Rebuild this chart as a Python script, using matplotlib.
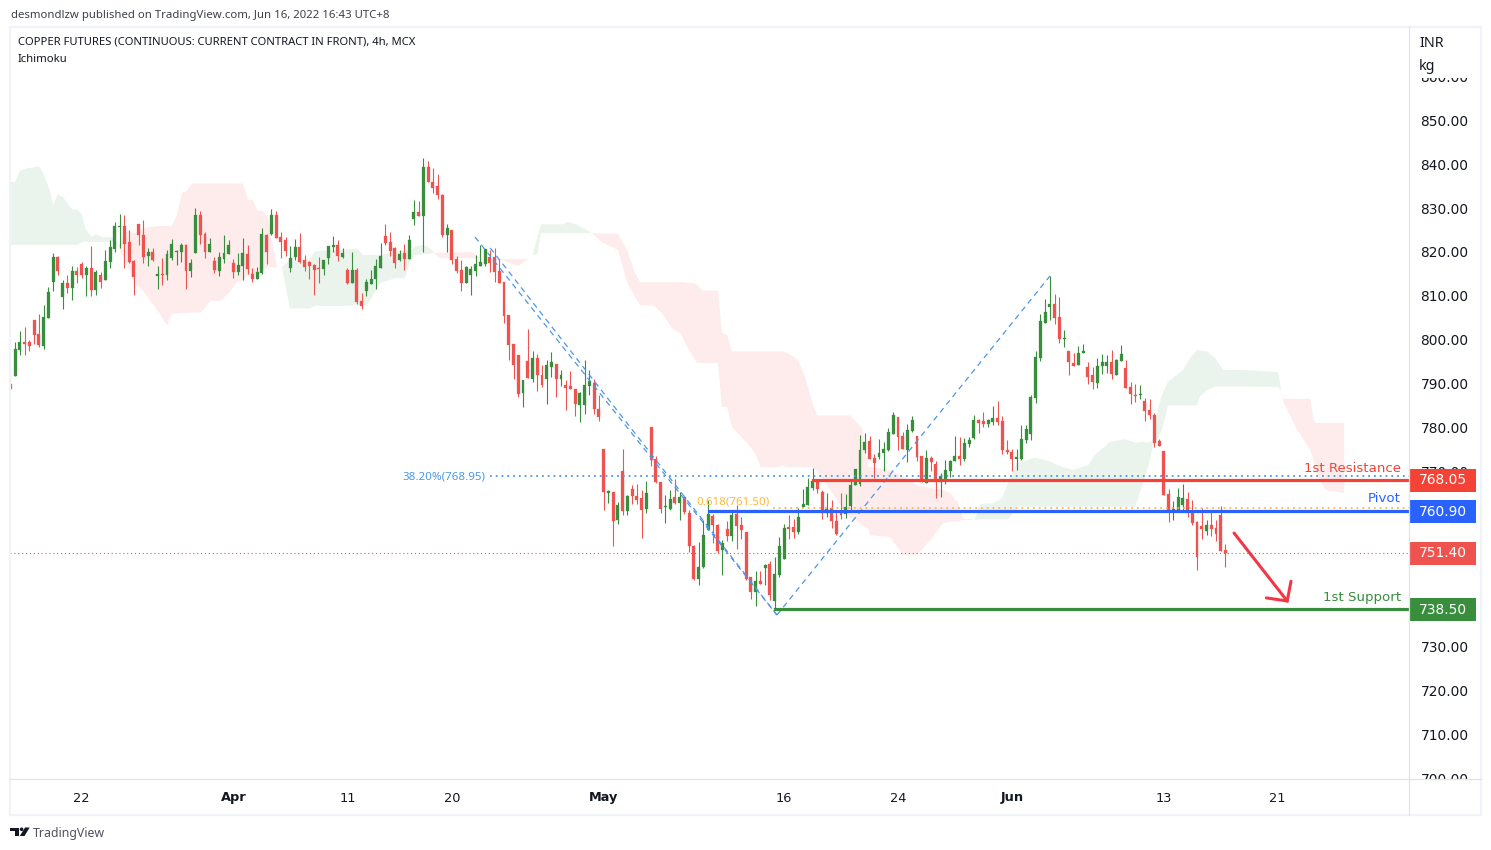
# copper futures 4h chart, tradingview style
import numpy as np
import matplotlib
matplotlib.use('Agg')
import matplotlib.pyplot as plt
import matplotlib.patches as mpatches
from matplotlib.transforms import blended_transform_factory

plt.rcParams['font.family'] = ['Noto Sans', 'DejaVu Sans']

# candles
highs = [792.9,799.5,801.9,802.9,799.9,804.5,805.9,807.9,812.0,819.7,
         819.1,813.6,814.8,816.8,816.6,817.7,816.8,821.4,815.9,815.4,
         820.5,822.7,826.8,828.7,828.4,825.0,818.2,826.4,827.3,820.9,
         820.9,816.8,818.6,820.5,823.0,820.5,822.0,821.8,818.4,830.0,
         829.3,824.6,823.2,818.9,820.0,823.9,822.7,818.4,819.8,823.2,
         821.6,816.4,816.6,825.5,824.1,829.8,829.3,824.6,823.4,821.4,
         823.0,824.3,819.3,817.9,817.3,818.9,818.2,821.4,823.7,822.7,
         820.9,816.4,820.0,816.4,810.6,813.8,815.9,818.4,822.0,826.4,
         824.6,821.1,820.5,821.8,823.9,831.9,831.6,841.4,840.7,839.2,
         837.8,833.2,826.4,825.0,819.1,818.2,816.8,816.8,819.3,821.6,
         820.7,820.5,820.9,818.4,813.2,805.6,799.0,796.5,790.8,802.4,
         797.4,796.7,794.2,795.4,797.2,794.5,793.1,790.8,792.9,788.7,
         788.1,795.4,793.1,791.0,787.4,775.1,765.7,765.3,763.0,775.1,
         764.6,766.9,767.1,765.7,767.8,780.1,773.5,767.5,764.6,765.7,
         768.2,765.3,764.3,761.2,753.2,753.9,758.9,763.4,760.2,757.9,
         754.3,758.6,761.2,762.3,759.6,756.1,745.9,747.2,747.2,748.8,
         749.5,750.4,755.0,758.0,760.0,759.1,761.7,765.9,768.4,770.7,
         768.0,765.7,765.0,763.4,761.1,765.0,764.8,768.0,770.5,778.3,
         778.7,778.0,773.9,777.3,776.7,779.9,783.5,782.4,778.9,780.8,
         782.6,778.0,773.5,774.8,773.5,772.3,769.6,772.5,772.6,778.0,
         777.8,777.6,777.8,782.8,781.9,783.5,781.9,784.9,786.0,782.6,
         777.1,775.1,775.1,780.5,780.5,787.4,797.4,805.9,809.3,814.5,
         810.4,809.7,802.2,797.4,797.0,798.6,799.0,794.9,793.8,795.8,
         796.7,796.5,797.6,795.6,798.8,795.4,790.3,789.9,789.7,786.7,
         786.5,783.3,777.3,774.6,765.9,763.2,766.2,767.1,765.3,763.4,
         758.6,761.6,758.9,760.9,758.9,762.1,753.4]
lows = [788.8,791.7,796.4,796.6,797.3,799.0,798.4,797.9,805.0,811.1,
        814.8,806.9,810.6,809.0,812.9,814.1,810.0,810.0,810.2,811.8,
        813.6,816.4,820.0,820.9,816.4,817.5,810.2,821.6,817.5,816.8,
        817.9,811.5,812.5,813.6,818.2,817.0,817.7,811.5,814.3,819.8,
        821.8,818.6,820.0,815.2,814.5,817.5,819.5,814.1,814.8,813.6,
        815.0,813.2,813.8,815.0,817.3,823.9,823.2,818.6,819.1,815.4,
        818.2,817.5,815.7,813.8,810.2,813.0,814.8,817.3,820.0,817.9,
        818.6,812.7,813.0,808.1,807.0,810.0,812.7,811.5,816.4,821.6,
        819.1,816.4,817.9,815.9,818.4,826.2,828.2,820.0,836.0,833.5,
        832.1,823.4,820.0,817.3,815.2,811.1,812.9,810.2,814.5,816.8,
        816.8,815.4,813.2,812.9,803.8,795.4,791.0,786.9,784.6,791.3,
        790.3,788.3,789.2,785.3,791.5,786.9,789.4,784.0,788.7,782.6,
        781.2,783.1,787.4,783.1,781.5,761.2,762.7,752.9,758.0,760.0,
        760.0,762.5,762.5,754.8,760.5,771.2,767.3,760.5,758.2,761.2,
        762.5,758.9,760.2,751.6,745.2,744.0,748.0,756.6,753.6,751.3,
        746.3,754.1,754.1,752.3,754.5,745.2,740.9,739.3,744.3,744.0,
        740.6,738.3,745.9,750.0,754.5,754.8,755.7,761.8,762.3,765.7,
        765.0,759.1,759.6,757.0,755.4,759.1,759.3,761.2,766.9,766.6,
        774.1,772.8,768.5,772.8,770.0,774.6,778.5,774.8,775.1,772.1,
        779.0,772.3,767.5,767.3,770.0,763.9,764.1,767.1,768.7,772.3,
        771.4,772.3,775.5,777.3,778.7,780.1,780.1,780.5,780.5,773.9,
        773.9,770.0,770.3,772.6,776.4,777.1,785.5,795.1,803.8,804.5,
        803.6,799.2,798.3,791.9,794.0,794.2,797.0,789.9,788.8,789.0,
        792.2,792.4,791.0,791.9,795.1,789.0,785.3,785.8,786.5,781.5,
        781.9,775.5,775.7,764.6,758.4,758.9,760.9,760.9,759.6,757.7,
        747.5,754.5,755.4,755.2,754.1,751.8,748.1]
opens = [789.9,791.7,797.6,799.5,799.5,804.5,801.3,798.6,805.0,813.2,
         818.9,809.7,812.9,811.8,815.7,817.3,814.8,816.4,811.3,814.8,
         813.6,817.7,820.7,825.7,825.9,822.3,817.9,826.4,823.9,819.1,
         820.0,814.5,815.0,814.8,818.6,820.0,820.0,821.6,815.7,819.8,
         828.4,824.1,820.0,817.9,815.7,818.4,819.5,817.5,815.4,816.8,
         819.5,815.0,813.8,815.2,823.9,824.1,828.4,823.4,822.7,816.4,
         818.9,821.1,818.2,817.7,817.0,816.4,816.1,818.6,821.1,821.6,
         818.9,815.9,813.0,815.9,808.8,811.1,812.7,813.8,816.4,823.7,
         822.3,820.9,818.2,819.8,818.4,827.5,829.1,828.2,839.4,836.0,
         835.0,833.0,823.9,825.0,818.4,815.9,812.9,814.8,815.7,816.8,
         817.3,818.9,818.9,815.7,813.2,805.6,799.0,796.5,787.8,795.1,
         791.0,795.8,792.0,791.0,793.8,794.5,791.0,789.7,789.4,788.7,
         785.1,785.1,789.4,790.1,784.2,775.1,765.0,765.3,758.9,770.0,
         760.9,766.0,764.3,763.9,761.4,780.1,772.8,767.5,761.8,761.4,
         764.1,762.7,764.1,760.5,752.9,745.4,748.2,756.6,759.8,757.7,
         752.0,756.8,755.2,760.2,757.7,756.1,745.8,742.4,745.0,747.9,
         748.8,740.4,746.3,750.0,757.3,757.3,756.1,761.8,762.3,766.2,
         767.8,765.2,760.5,761.6,758.6,760.5,760.2,762.1,766.9,767.1,
         774.8,776.9,773.0,773.2,774.1,774.8,778.5,782.4,778.0,774.8,
         779.2,778.0,773.5,767.3,773.0,771.6,767.5,768.2,770.0,772.3,
         773.5,772.8,776.2,777.6,781.7,781.5,780.8,781.2,782.1,781.5,
         774.8,774.4,772.8,772.8,777.1,778.5,786.7,795.8,803.8,807.5,
         808.1,805.2,800.2,797.4,794.7,794.2,797.0,793.8,791.9,790.1,
         794.0,794.0,794.9,791.9,795.1,793.5,789.2,787.4,787.4,786.0,
         784.0,782.8,776.9,774.6,764.8,760.7,760.9,762.3,763.6,760.9,
         758.4,757.5,756.4,757.7,757.0,760.0,752.0]
closes = [788.8,797.9,799.5,799.0,798.6,801.1,798.8,805.2,810.9,818.9,
          815.7,812.9,811.8,815.7,814.8,814.8,816.4,811.3,815.4,813.2,
          817.9,821.1,825.9,825.9,821.8,817.7,814.3,823.9,818.9,820.0,
          818.2,815.0,814.8,819.5,821.8,820.3,821.6,815.7,817.5,828.4,
          823.9,820.0,821.8,815.9,818.9,819.8,821.6,815.4,817.0,819.8,
          816.1,813.8,815.4,824.1,820.0,828.4,823.2,822.3,820.2,818.6,
          821.1,817.7,816.6,816.8,815.9,816.1,818.2,821.4,821.6,819.1,
          819.8,813.0,815.9,808.6,807.7,813.2,813.8,816.8,819.1,822.0,
          820.2,817.5,819.5,818.4,822.7,829.1,828.2,839.4,836.0,834.6,
          833.0,823.9,825.5,818.2,815.7,812.9,816.6,816.1,817.3,817.7,
          820.7,817.5,815.4,812.9,805.4,798.8,794.2,787.6,790.8,791.3,
          795.8,792.0,789.7,794.2,794.9,791.0,792.0,789.0,788.7,785.3,
          787.8,789.7,790.6,784.2,782.4,765.3,765.5,758.6,762.3,760.9,
          764.3,764.3,763.4,761.2,765.0,772.6,767.5,761.4,762.0,763.7,
          762.7,764.1,760.7,752.9,745.4,748.2,755.5,760.2,757.7,751.8,
          753.6,755.2,760.0,757.5,756.6,745.4,742.4,745.0,744.3,748.6,
          741.8,746.6,752.9,757.0,756.8,756.1,759.6,762.5,766.4,767.8,
          765.9,760.5,761.4,758.6,755.7,760.0,761.8,766.9,770.5,774.8,
          776.7,772.8,771.9,774.1,775.1,778.9,782.8,777.8,775.1,779.4,
          781.7,773.2,767.5,773.0,772.1,767.5,768.9,770.3,772.3,773.5,
          772.8,776.4,777.1,781.7,781.0,780.8,781.7,782.1,781.2,774.8,
          774.4,772.8,773.2,777.3,779.6,786.9,796.0,804.3,806.3,808.1,
          804.9,800.2,800.4,794.9,794.0,796.9,797.4,791.5,790.3,794.0,
          794.9,794.9,792.2,795.4,796.7,789.0,787.6,787.2,787.6,783.7,
          782.8,776.4,775.7,764.6,760.7,761.4,764.1,763.9,760.5,758.2,
          750.4,756.8,757.7,756.8,755.7,751.8,751.4]

# ichimoku cloud edges: green where span_a is above span_b, red otherwise
cloud_x = [-0.1,1.0,2.0,3.7,6.0,6.9,8.3,9.0,10.0,11.1,13.0,14.2,15.1,15.9,17.2,18.0,19.3,21.0,22.0,22.7,
           24.7,26.2,27.9,31.1,33.0,34.0,35.1,36.2,37.0,38.3,40.2,42.1,44.4,46.3,47.8,49.0,50.1,51.1,52.0,53.2,54.3,55.3,56.2,57.2,
           58.9,61.0,63.1,64.2,70.9,73.0,74.3,75.1,77.9,81.0,83.1,84.2,85.2,86.9,88.0,89.3,
           90.5,97.3,99.0,103.2,107.0,109.1,
           110.0,111.0,111.8,116.4,117.5,119.4,122.5,
           124.9,128.0,129.9,131.6,132.7,135.4,137.3,139.4,141.1,143.8,144.7,145.7,149.1,149.9,151.0,152.0,155.2,156.9,158.1,160.5,162.8,163.8,165.9,167.4,169.1,
           170.0,171.2,176.9,178.6,179.4,180.7,181.1,185.3,188.1,190.2,191.0,193.8,196.5,198.0,199.7,200.7,203.2,
           204.3,207.0,208.9,210.2,212.1,215.9,219.1,220.5,223.9,227.1,228.5,231.7,234.8,237.0,238.4,239.7,240.7,241.6,242.6,243.9,247.1,248.5,250.0,250.6,252.1,253.8,255.5,259.1,267.1,267.7,
           268.2,271.1,273.9,274.5,275.1,277.0,281.0]
span_a = [836.0,836.0,838.5,839.1,839.5,838.0,834.1,830.7,833.2,832.5,829.7,829.6,828.4,825.0,823.4,824.1,823.4,823.4,823.0,821.4,
          816.7,812.9,811.2,806.5,803.2,805.9,805.9,806.1,806.1,806.2,806.2,808.8,808.9,811.0,813.2,813.5,814.8,815.0,814.8,815.7,816.6,816.5,816.5,816.5,
          818.2,817.8,818.5,820.2,820.6,820.8,819.3,819.3,819.3,820.0,820.5,820.1,821.2,821.6,821.2,819.8,
          818.6,818.6,818.3,818.2,816.8,818.4,
          819.3,823.2,826.3,826.3,826.9,826.2,824.3,
          822.0,820.5,813.2,809.7,807.9,807.9,806.0,802.6,801.5,796.1,794.7,794.7,794.6,784.7,784.6,780.2,776.4,774.1,770.9,770.9,771.2,771.0,771.0,771.0,771.0,
          769.8,768.0,759.3,758.5,757.7,756.8,755.4,755.0,750.9,750.9,750.9,754.3,758.2,758.4,758.6,758.9,758.9,
          762.5,762.7,763.8,767.3,771.9,773.1,772.2,771.4,770.3,771.4,773.7,776.7,777.3,776.5,776.7,776.5,777.1,783.2,787.4,790.4,793.1,795.8,797.6,797.6,797.3,795.8,793.1,793.1,792.6,788.5,
          785.8,779.4,774.8,772.6,769.8,765.7,765.0]
span_b = [821.6,821.6,821.6,821.6,821.6,821.6,821.6,821.6,821.6,821.6,821.6,821.6,822.3,822.3,822.3,822.3,822.3,822.3,822.3,821.4,
          825.0,824.3,825.4,825.9,825.9,825.9,828.4,833.5,833.7,835.6,835.6,835.6,835.6,835.6,835.6,835.6,831.9,831.9,829.4,829.4,827.7,821.2,816.5,816.5,
          807.1,807.1,807.1,807.7,807.7,807.9,807.9,807.7,812.9,814.0,814.0,817.8,819.3,819.5,819.5,819.8,
          819.8,820.0,818.4,818.4,818.4,818.4,
          819.3,819.5,824.3,824.3,824.3,824.3,824.3,
          824.2,824.1,820.5,815.1,813.1,813.1,813.1,813.1,813.1,812.9,812.5,811.2,811.2,801.5,801.1,797.3,797.3,797.3,797.3,797.3,797.3,796.9,795.4,791.6,785.1,
          782.7,782.7,782.7,780.8,779.8,771.0,771.0,770.3,768.9,767.3,766.8,766.2,765.7,765.0,762.7,759.3,758.9,
          759.0,759.0,759.0,759.0,761.9,761.9,761.9,761.9,761.9,761.9,761.9,761.9,761.9,761.9,766.5,771.0,775.6,777.1,779.4,785.0,785.0,785.0,785.0,787.0,788.5,789.3,789.3,789.3,789.2,788.5,
          786.5,786.5,786.5,781.7,781.0,781.0,781.0]

# drawn levels, 750 and 760 sit fully under the tags
price_ticks = [700,710,720,730,740,770,780,790,800,810,820,830,840,850,860]
time_ticks = [15, 47, 71, 93, 125, 163, 187, 211, 243, 267]
time_labels = ['22', 'Apr', '11', '20', 'May', '16', '24', 'Jun', '13', '21']
bold_months = ['Apr', 'May', 'Jun']
resistance = 768.05
pivot = 760.90
support = 738.50
last_price = 751.40
fib_382 = 768.95
fib_618 = 761.50

# fib legs and arrow, (bar, price)
fib_down_a = ([97.9, 161.5], [823.4, 737.2])
fib_down_b = ([101.1, 161.5], [820.9, 737.2])
fib_up = ([161.5, 219.0], [737.2, 814.5])
arrow_shaft = ([257.8, 269.0], [755.9, 740.4])
arrow_head = ([269.8, 269.0, 264.6], [744.9, 740.4, 741.1])

GREEN = '#388E3C'
RED = '#EF5350'
FIB_BLUE = '#4C97E6'
ORANGE = '#FFB83D'
TEXT = '#131722'

W, H = 1491, 850
fig = plt.figure(figsize=(W/100, H/100), dpi=100)
ax = fig.add_axes([10/W, 1-779/H, (1409-10)/W, (779-27)/H])
ax.set_xlim(-0.08, 294.66)
ax.set_ylim(699.8, 871.3)
for s in ax.spines.values():
    s.set_visible(False)

# cloud
cx, a, b = np.array(cloud_x), np.array(span_a), np.array(span_b)
ax.fill_between(cx, a, b, where=a >= b, color='#EAF4EC', lw=0, zorder=1)
ax.fill_between(cx, a, b, where=a <= b, color='#FDECEB', lw=0, zorder=1)

# candles
bars = np.arange(len(closes))
o, c = np.array(opens), np.array(closes)
colors = [GREEN if up else RED for up in c >= o]
ax.vlines(bars, lows, highs, colors=colors, lw=0.8, zorder=2)
ax.bar(bars, c-o, bottom=o, width=0.62, color=colors, edgecolor=colors, lw=0.2, zorder=2)

# fib tool
dash = (0, (4.5, 3.5))
ax.plot(*fib_down_a, color=FIB_BLUE, lw=0.9, ls=dash, zorder=3)
ax.plot(*fib_down_b, color=FIB_BLUE, lw=0.9, ls=dash, zorder=3)
ax.plot(*fib_up, color=FIB_BLUE, lw=0.9, ls=dash, zorder=3)
ax.plot([101, 294.66], [fib_382, fib_382], color=FIB_BLUE, lw=1.3, ls=(0, (1, 2.2)), zorder=3)
ax.plot([160.7, 294.66], [fib_618, fib_618], color=ORANGE, lw=1.3, ls=(0, (1, 2.2)), zorder=3)
ax.text(100.0, fib_382-0.2, '38.20%(768.95)', color=FIB_BLUE, fontsize=8.3, ha='right', va='center')
ax.text(152.3, 762.9, '0.618(761.50)', color=ORANGE, fontsize=8.3, ha='center', va='center', zorder=4)

# horizontal levels
ax.axhline(last_price, color=RED, lw=0.8, ls=(0, (1, 2.5)), zorder=3)
ax.plot([169.1, 294.66], [resistance, resistance], color='#F44336', lw=2.3, zorder=4)
ax.plot([147.2, 294.66], [pivot, pivot], color='#2962FF', lw=2.3, zorder=4)
ax.plot([161.1, 294.66], [support, support], color=GREEN, lw=2.3, zorder=4)
ax.text(293.0, 770.6, '1st Resistance', color='#F44336', fontsize=9.6, family='DejaVu Sans',
        ha='right', va='center', zorder=4)
ax.text(293.0, 763.8, 'Pivot', color='#2962FF', fontsize=9.6, family='DejaVu Sans',
        ha='right', va='center', zorder=4)
ax.text(293.0, 741.2, '1st Support', color=GREEN, fontsize=9.6, family='DejaVu Sans',
        ha='right', va='center', zorder=4)

# hand drawn arrow
ax.plot(*arrow_shaft, color='#F23645', lw=2.2, solid_capstyle='round', zorder=4)
ax.plot(*arrow_head, color='#F23645', lw=2.2, solid_capstyle='round', solid_joinstyle='miter', zorder=4)

# axes
ax.yaxis.tick_right()
ax.set_yticks(price_ticks)
ax.set_yticklabels(['%.2f' % p for p in price_ticks], color=TEXT, fontsize=9.9, family='DejaVu Sans')
ax.tick_params(axis='y', length=0, pad=8.3)
ax.set_xticks(time_ticks)
ax.set_xticklabels(time_labels, color=TEXT, fontsize=9.3, family='DejaVu Sans')
ax.tick_params(axis='x', length=0, pad=9)
for t, lab in zip(ax.get_xticklabels(), time_labels):
    if lab in bold_months:
        t.set_fontweight('bold')

# price tags on the scale
trans = blended_transform_factory(ax.transAxes, ax.transData)
tag_w = (1476-1409)/(1409-10)
tag_h = 23/4.384
tags = [(resistance, '#F44336'), (pivot, '#2962FF'), (last_price, RED), (support, GREEN)]
for price, col in tags:
    ax.add_patch(mpatches.Rectangle((1, price-tag_h/2-0.1), tag_w, tag_h, transform=trans, facecolor=col,
                                    edgecolor='none', clip_on=False, zorder=5))
    ax.text(1+tag_w/2, price-0.1, '%.2f' % price, transform=trans, color='white', fontsize=9.9,
            family='DejaVu Sans', ha='center', va='center', clip_on=False, zorder=6)

# page chrome in pixel coords
top = fig.add_axes([0, 0, 1, 1], zorder=10)
top.set_xlim(0, W)
top.set_ylim(H, 0)
top.axis('off')
top.add_patch(mpatches.Rectangle((1410, 28), 69, 50, facecolor='white', edgecolor='none'))
top.add_patch(mpatches.Rectangle((1410, 780), 69, 34, facecolor='white', edgecolor='none'))
top.add_patch(mpatches.Rectangle((10, 26.5), 1471, 788, fill=False, edgecolor='#F0F3FA', lw=1.6))
top.plot([10, 1481], [779.3, 779.3], color='#E0E3EB', lw=0.9)
top.plot([1409.3, 1409.3], [27, 815], color='#E0E3EB', lw=0.9)

top.text(11, 15, 'desmondlzw published on TradingView.com, Jun 16, 2022 16:43 UTC+8', color='#3c4048',
         fontsize=8.2, va='center')
top.text(18, 41.5, 'COPPER FUTURES (CONTINUOUS: CURRENT CONTRACT IN FRONT), 4h, MCX', color=TEXT,
         fontsize=8.1, va='center')
top.text(18, 59, 'Ichimoku', color=TEXT, fontsize=8.1, va='center')
top.text(1419, 43.5, 'INR', color=TEXT, fontsize=10.3, va='center')
top.text(1419, 66, 'kg', color=TEXT, fontsize=10.3, va='center')

# tradingview logo
top.add_patch(mpatches.Polygon([(10, 827.5), (19, 827.5), (19, 836), (14.5, 836), (14.5, 831), (10, 831)],
                               facecolor=TEXT, edgecolor='none'))
top.add_patch(mpatches.Circle((21.6, 829.3), 1.8, facecolor=TEXT, edgecolor='none'))
top.add_patch(mpatches.Polygon([(25, 827.5), (29.7, 827.5), (24.5, 836), (19.8, 836)], facecolor=TEXT, edgecolor='none'))
top.text(33, 833, 'TradingView', color='#50535E', fontsize=8.9, va='center')

plt.savefig('out.png', dpi=100)
